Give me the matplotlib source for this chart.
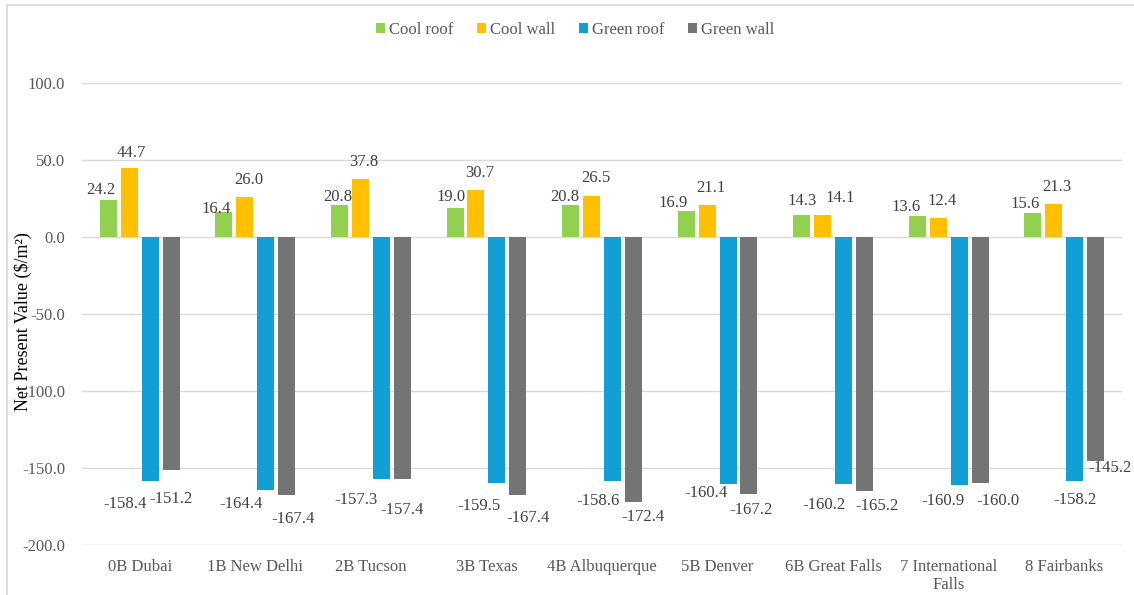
import matplotlib.pyplot as plt
import numpy as np
from matplotlib.patches import Rectangle

plt.rcParams['font.family'] = ['Liberation Serif', 'DejaVu Serif']
plt.rcParams['font.size'] = 12

# Net present value per climate zone
cities = ['0B Dubai', '1B New Delhi', '2B Tucson', '3B Texas', '4B Albuquerque',
          '5B Denver', '6B Great Falls', '7 International\nFalls', '8 Fairbanks']
cool_roof = [24.2, 16.4, 20.8, 19.0, 20.8, 16.9, 14.3, 13.6, 15.6]
cool_wall = [44.7, 26.0, 37.8, 30.7, 26.5, 21.1, 14.1, 12.4, 21.3]
green_roof = [-158.4, -164.4, -157.3, -159.5, -158.6, -160.4, -160.2, -160.9, -158.2]
green_wall = [-151.2, -167.4, -157.4, -167.4, -172.4, -167.2, -165.2, -160.0, -145.2]

series = [cool_roof, cool_wall, green_roof, green_wall]
labels = ['Cool roof', 'Cool wall', 'Green roof', 'Green wall']
colors = ['#92D050', '#FFC000', '#129FD6', '#747474']

# hand-placed data label nudges (pixels) relative to each bar end
label_nudge = [
    [(-8, 10), (-7.5, 3), (-2, 8), (-4, 11), (-6, 8), (-13.5, 8), (0, 14), (-11.5, 9), (-7.5, 9)],
    [(2.5, 15), (4, 17), (3.5, 17), (4, 17), (4, 18), (4, 17), (18, 17), (4, 17), (3.5, 17)],
    [(-25.5, -23), (-25, -14), (-25, -21), (-18, -23), (-14, -20), (-22.5, -9), (-20, -21), (-16, -16), (0, -19)],
    [(0, -29), (6, -24), (0, -31), (10.5, -23), (10, -15), (2, -16), (12, -15), (18, -18), (14, -7)],
]

fig = plt.figure(figsize=(11.34, 5.95), dpi=100)
ax = fig.add_axes([82 / 1134, 50 / 595, 1040 / 1134, 462 / 595])

x = np.arange(len(cities))
width = 0.147
offsets = [-0.272, -0.091, 0.091, 0.272]

for vals, lab, col, off, nudges in zip(series, labels, colors, offsets, label_nudge):
    bars = ax.bar(x + off, vals, width, color=col, label=lab, zorder=3)
    for b, v, (dx, dy) in zip(bars, vals, nudges):
        ax.annotate(f'{v:.1f}', (b.get_x() + b.get_width() / 2, v),
                    xytext=(dx, dy), textcoords='offset pixels',
                    ha='center', va='center', color='#404040', fontsize=12)

ax.set_xlim(-0.5, len(cities) - 0.5)
ax.set_ylim(-200, 100)
ax.set_yticks(np.arange(-200, 101, 50))
ax.set_yticklabels([f'{t:.1f}' for t in np.arange(-200, 101, 50)])
ax.set_xticks(x)
ax.set_xticklabels(cities)
ax.tick_params(axis='both', length=0, colors='#595959', labelsize=12)
ax.tick_params(axis='x', pad=10)
ax.tick_params(axis='y', pad=12)
ax.yaxis.grid(True, color='#D9D9D9', linewidth=1, zorder=0)
for s in ax.spines.values():
    s.set_visible(False)

ax.set_ylabel('Net Present Value ($/m²)', color='#000000', fontsize=13)
ax.yaxis.set_label_coords(-50 / 1040, 0.483)

fig.legend(loc='center', bbox_to_anchor=(575 / 1134, 1 - 30 / 595), ncol=4,
           frameon=False, fontsize=12, handlelength=0.55, handleheight=0.55,
           handletextpad=0.25, columnspacing=1.4, labelcolor='#595959')

# light outline around the chart area
fig.patches.append(Rectangle((7 / 1134, -0.1), 1.2, 1 - 5 / 595 + 0.1, transform=fig.transFigure,
                             fill=False, edgecolor='#D9D9D9', linewidth=1.2))

fig.savefig('out.png', dpi=100)
